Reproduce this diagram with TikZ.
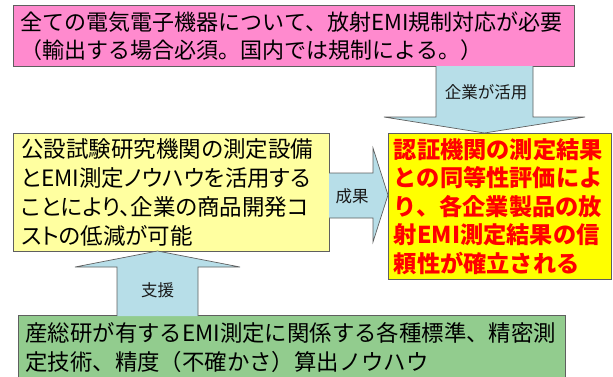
\documentclass[tikz,border=0pt]{standalone}
\usepackage{fontspec}
\setmainfont{Noto Sans CJK JP}
\newfontfamily\pjfont[RawFeature=+palt]{Noto Sans CJK JP}
\definecolor{pinkbg}{RGB}{255,138,206}
\definecolor{lightyel}{RGB}{255,255,160}
\definecolor{brightyel}{RGB}{255,255,0}
\definecolor{redtxt}{RGB}{255,0,0}
\definecolor{arrowblue}{RGB}{183,222,232}
\definecolor{greenbg}{RGB}{146,204,142}
\definecolor{edgegray}{RGB}{95,95,95}
\tikzset{
  box/.style={draw=edgegray, line width=0.9pt, anchor=north west, inner sep=0pt, align=left},
  lbl/.style={font=\fontsize{16.5}{19}\selectfont, text=black!90, inner sep=0pt},
  barrow/.style={fill=arrowblue, draw=edgegray, line width=0.7pt, line join=miter},
}
\begin{document}
\begin{tikzpicture}[x=1pt,y=-1pt]
\useasboundingbox (0,0) rectangle (613,376);
% boxes
\node[box, fill=pinkbg, minimum width=561pt, minimum height=61pt, text width=546pt,
      font=\fontsize{22}{28}\selectfont] (pink) at (13,5)
  {全ての電気電子機器について、放射EMI規制対応が必要\\（輸出する場合必須。国内では規制による。）};
\node[box, fill=lightyel, minimum width=316pt, minimum height=118pt, text width=300pt,
      font=\pjfont\fontsize{22.5}{29}\selectfont] (yel) at (13,133)
  {公設試験研究機関の測定設備\\とEMI測定ノウハウを活用する\\ことにより、企業の商品開発コ\\ストの低減が可能};
\node[box, fill=brightyel, minimum width=223pt, minimum height=146pt, text width=212pt,
      text=redtxt, font=\bfseries\fontsize{23.2}{28.5}\selectfont] (red) at (388,133)
  {認証機関の測定結果\\との同等性評価によ\\り、各企業製品の放\\射EMI測定結果の信\\頼性が確立される};
\node[box, fill=greenbg, minimum width=547pt, minimum height=65pt, text width=533pt,
      font=\fontsize{22.4}{29}\selectfont] (green) at (18,315)
  {産総研が有するEMI測定に関係する各種標準、精密測\\定技術、精度（不確かさ）算出ノウハウ};
% block arrows
\draw[barrow] (436,66) -- (436,117) -- (384,117) -- (484.5,133) -- (585,117) -- (533,117) -- (533,66);
\draw[barrow] (329,173) -- (373,173) -- (373,148) -- (388,195) -- (373,242) -- (373,218) -- (329,218);
\draw[barrow] (117,316) -- (117,267) -- (75,267) -- (157.5,251) -- (240,267) -- (198,267) -- (198,316);
% arrow labels
\node[lbl] (lbl1) at (486,92) {企業が活用};
\node[lbl] (lbl2) at (352,196) {成果};
\node[lbl] (lbl3) at (157.5,290) {支援};
\end{tikzpicture}
\end{document}
